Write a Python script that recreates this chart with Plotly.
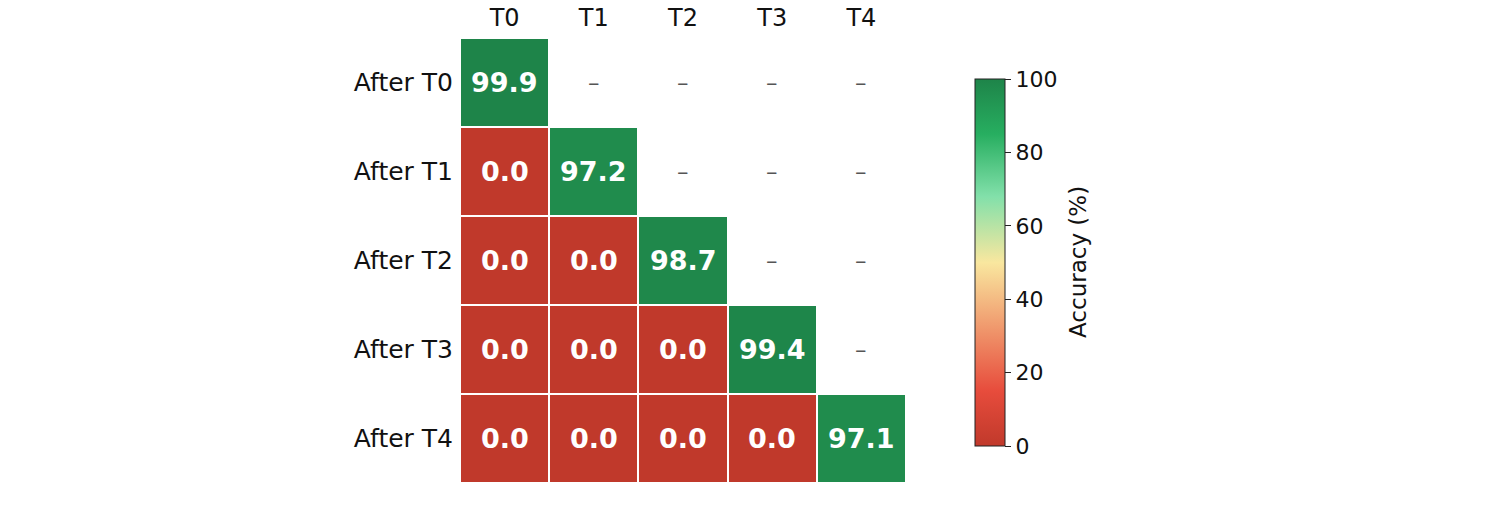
import plotly.graph_objects as go

tasks = ["T0", "T1", "T2", "T3", "T4"]
rows = ["After T0", "After T1", "After T2", "After T3", "After T4"]
acc = [
    [99.9, None, None, None, None],
    [0.0, 97.2, None, None, None],
    [0.0, 0.0, 98.7, None, None],
    [0.0, 0.0, 0.0, 99.4, None],
    [0.0, 0.0, 0.0, 0.0, 97.1],
]

scale = [
    [0.0, "#c0392b"],
    [0.15, "#e74c3c"],
    [0.5, "#f9e79f"],
    [0.68, "#82e0aa"],
    [0.85, "#27ae60"],
    [1.0, "#1e8449"],
]

fig = go.Figure(go.Heatmap(
    z=acc, x=tasks, y=rows,
    zmin=0, zmax=100, colorscale=scale,
    xgap=2, ygap=2, hoverongaps=False,
    colorbar=dict(
        x=1.132, xanchor="left", y=0.4955, yanchor="middle",
        len=0.87, thickness=30, outlinewidth=1, outlinecolor="#222",
        ticks="outside", ticklen=6, tickcolor="#222", tickvals=[0, 20, 40, 60, 80, 100],
        tickfont=dict(size=22, color="#111"),
    ),
))

# colorbar title placed by hand so it sits further from the tick labels
fig.add_annotation(x=1.386, y=0.497, xref="paper", yref="paper", text="Accuracy (%)",
                   xanchor="center", yanchor="middle",
                   textangle=-90, showarrow=False, font=dict(size=23, color="#111"))

# cell labels
for i, r in enumerate(rows):
    for j, t in enumerate(tasks):
        v = acc[i][j]
        if v is None:
            fig.add_annotation(x=t, y=r, text="–", showarrow=False,
                               font=dict(size=23, color="#555"))
        else:
            fig.add_annotation(x=t, y=r, text="<b>%.1f</b>" % v, showarrow=False,
                               font=dict(size=27, color="white"))

fig.update_layout(
    width=1500, height=525,
    margin=dict(l=460, r=594, t=38, b=42),
    plot_bgcolor="white", paper_bgcolor="white",
    font=dict(family="DejaVu Sans", color="#111"),
    xaxis=dict(side="top", showgrid=False, zeroline=False, ticks="", automargin=False,
               tickfont=dict(size=24), ticklabelstandoff=6),
    yaxis=dict(autorange="reversed", showgrid=False, zeroline=False, ticks="", automargin=False,
               tickfont=dict(size=25), ticklabelstandoff=6),
)

# drop the default page margin so the figure sits at the window corner
fig.write_html("out.html", config={"displayModeBar": False},
               post_script="document.body.style.margin='0';")
